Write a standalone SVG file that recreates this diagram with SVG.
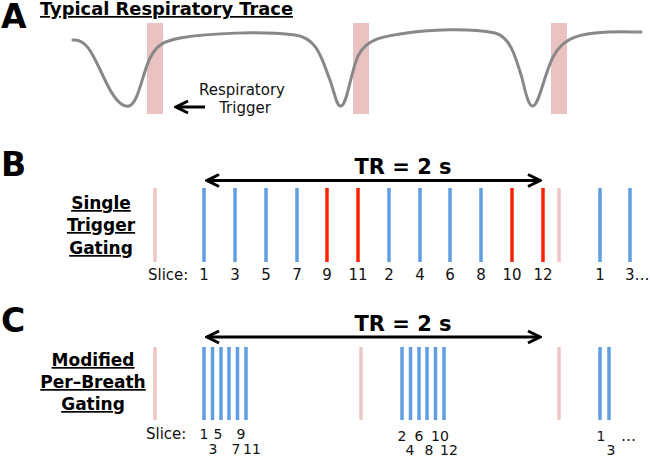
<svg xmlns="http://www.w3.org/2000/svg" width="650" height="458" viewBox="0 0 650 458">
<style>
.bg{fill:#ffffff}
.panel{font-family:"DejaVu Sans","Liberation Sans",sans-serif;font-weight:bold;font-size:33px;fill:#000}
.title{font-family:"DejaVu Sans","Liberation Sans",sans-serif;font-weight:bold;font-size:17px;fill:#000;text-decoration:underline}
.lbl{font-family:"DejaVu Sans","Liberation Sans",sans-serif;font-weight:bold;font-size:17px;fill:#000;text-decoration:underline;text-anchor:middle}
.tr{font-family:"DejaVu Sans","Liberation Sans",sans-serif;font-weight:bold;font-size:21px;fill:#000;text-anchor:middle}
.txt{font-family:"DejaVu Sans","Liberation Sans",sans-serif;font-size:15px;fill:#111}
.num{font-family:"DejaVu Sans","Liberation Sans",sans-serif;font-size:15px;fill:#111;text-anchor:middle}
.sm{font-size:14px}
.band{fill:#ebc2c2}
.pink{stroke:#efc6c6;stroke-width:3.5}
.blue{stroke:#5f9ee0;stroke-width:3.5}
.red{stroke:#ff2200;stroke-width:3.5}
.trace{fill:none;stroke:#888888;stroke-width:3;stroke-linecap:round}
.arrow{fill:none;stroke:#000;stroke-width:3}
</style>
<defs>
<marker id="chev" viewBox="-14 -8 16 16" refX="0" refY="0" markerWidth="16" markerHeight="16" markerUnits="userSpaceOnUse" orient="auto-start-reverse">
<path d="M-12,-6 L0,0 L-12,6" fill="none" stroke="#000" stroke-width="3"/>
</marker>
</defs>
<rect class="bg" x="0" y="0" width="650" height="458"/>

<g id="panelA">
<text class="panel" x="1" y="28">A</text>
<text class="title" x="40" y="15" textLength="253" lengthAdjust="spacingAndGlyphs">Typical Respiratory Trace</text>
<rect class="band" x="147" y="23" width="16" height="91"/>
<rect class="band" x="353" y="23" width="16" height="91"/>
<rect class="band" x="551" y="23" width="16" height="91"/>
<path class="trace" d="M73,40 C88,38 95,60 105,80 C112,95 120,108 129,106 C138,104 142,75 150,58 C157,44 165,41 180,38 C210,33 260,31 295,35 C318,38 322,60 330,80 C335,95 337,107 341,106 C347,105 350,75 358,56 C366,40 380,37 400,34 C430,29 470,28 495,33 C510,37 515,55 522,78 C526,95 529,107 533,106 C539,105 544,75 553,57 C562,40 575,35 595,33 C615,31 630,32 641,32"/>
<text class="txt" x="242" y="95" text-anchor="middle">Respiratory</text>
<text class="txt" x="245" y="113" text-anchor="middle">Trigger</text>
</g>

<g id="panelB">
<text class="panel" x="1" y="176">B</text>
<text class="lbl" x="101" y="209">Single</text>
<text class="lbl" x="101" y="231">Trigger</text>
<text class="lbl" x="101" y="254">Gating</text>
<text class="tr" x="403" y="174">TR = 2 s</text>
<line class="pink" x1="155" y1="188" x2="155" y2="262"/>
<line class="blue" x1="204" y1="188" x2="204" y2="262"/>
<line class="blue" x1="235" y1="188" x2="235" y2="262"/>
<line class="blue" x1="266" y1="188" x2="266" y2="262"/>
<line class="blue" x1="297" y1="188" x2="297" y2="262"/>
<line class="red" x1="327" y1="188" x2="327" y2="262"/>
<line class="red" x1="358" y1="188" x2="358" y2="262"/>
<line class="blue" x1="389" y1="188" x2="389" y2="262"/>
<line class="blue" x1="420" y1="188" x2="420" y2="262"/>
<line class="blue" x1="450" y1="188" x2="450" y2="262"/>
<line class="blue" x1="481" y1="188" x2="481" y2="262"/>
<line class="red" x1="512" y1="188" x2="512" y2="262"/>
<line class="red" x1="543" y1="188" x2="543" y2="262"/>
<line class="pink" x1="559" y1="188" x2="559" y2="262"/>
<line class="blue" x1="600" y1="188" x2="600" y2="262"/>
<line class="blue" x1="630" y1="188" x2="630" y2="262"/>
<text class="txt" x="148" y="280">Slice:</text>
<text class="num" x="204" y="280">1</text>
<text class="num" x="235" y="280">3</text>
<text class="num" x="266" y="280">5</text>
<text class="num" x="297" y="280">7</text>
<text class="num" x="327" y="280">9</text>
<text class="num" x="358" y="280">11</text>
<text class="num" x="389" y="280">2</text>
<text class="num" x="420" y="280">4</text>
<text class="num" x="450" y="280">6</text>
<text class="num" x="481" y="280">8</text>
<text class="num" x="512" y="280">10</text>
<text class="num" x="543" y="280">12</text>
<text class="num" x="600" y="280">1</text>
<text class="txt" x="625" y="280">3…</text>
</g>

<g id="panelC">
<text class="panel" x="1" y="332">C</text>
<text class="lbl" x="93" y="366">Modified</text>
<text class="lbl" x="93" y="388">Per–Breath</text>
<text class="lbl" x="93" y="410">Gating</text>
<text class="tr" x="403" y="331">TR = 2 s</text>
<line class="pink" x1="155" y1="347" x2="155" y2="420"/>
<line class="blue" x1="204" y1="347" x2="204" y2="420"/>
<line class="blue" x1="212.5" y1="347" x2="212.5" y2="420"/>
<line class="blue" x1="221" y1="347" x2="221" y2="420"/>
<line class="blue" x1="229" y1="347" x2="229" y2="420"/>
<line class="blue" x1="237.5" y1="347" x2="237.5" y2="420"/>
<line class="blue" x1="246" y1="347" x2="246" y2="420"/>
<line class="pink" x1="361" y1="347" x2="361" y2="420"/>
<line class="blue" x1="402" y1="347" x2="402" y2="420"/>
<line class="blue" x1="410.5" y1="347" x2="410.5" y2="420"/>
<line class="blue" x1="419" y1="347" x2="419" y2="420"/>
<line class="blue" x1="427" y1="347" x2="427" y2="420"/>
<line class="blue" x1="435.5" y1="347" x2="435.5" y2="420"/>
<line class="blue" x1="444" y1="347" x2="444" y2="420"/>
<line class="pink" x1="559" y1="347" x2="559" y2="420"/>
<line class="blue" x1="600" y1="347" x2="600" y2="420"/>
<line class="blue" x1="609" y1="347" x2="609" y2="420"/>
<text class="txt" x="146" y="439">Slice:</text>
<text class="num sm" x="204" y="439">1</text>
<text class="num sm" x="218" y="439">5</text>
<text class="num sm" x="241" y="439">9</text>
<text class="num sm" x="213" y="454">3</text>
<text class="num sm" x="236" y="454">7</text>
<text class="num sm" x="252" y="454">11</text>
<text class="num sm" x="402" y="441">2</text>
<text class="num sm" x="419" y="441">6</text>
<text class="num sm" x="440" y="441">10</text>
<text class="num sm" x="410" y="455">4</text>
<text class="num sm" x="429" y="455">8</text>
<text class="num sm" x="449" y="455">12</text>
<text class="num sm" x="601" y="441">1</text>
<text class="num sm" x="611" y="455">3</text>
<text class="txt" x="621" y="441">…</text>
</g>

<g id="connectors">
<line class="arrow" x1="176" y1="107" x2="205" y2="107" marker-start="url(#chev)"/>
<line class="arrow" x1="207" y1="180.5" x2="540" y2="180.5" marker-start="url(#chev)" marker-end="url(#chev)"/>
<line class="arrow" x1="207" y1="337" x2="540" y2="337" marker-start="url(#chev)" marker-end="url(#chev)"/>
</g>
</svg>
